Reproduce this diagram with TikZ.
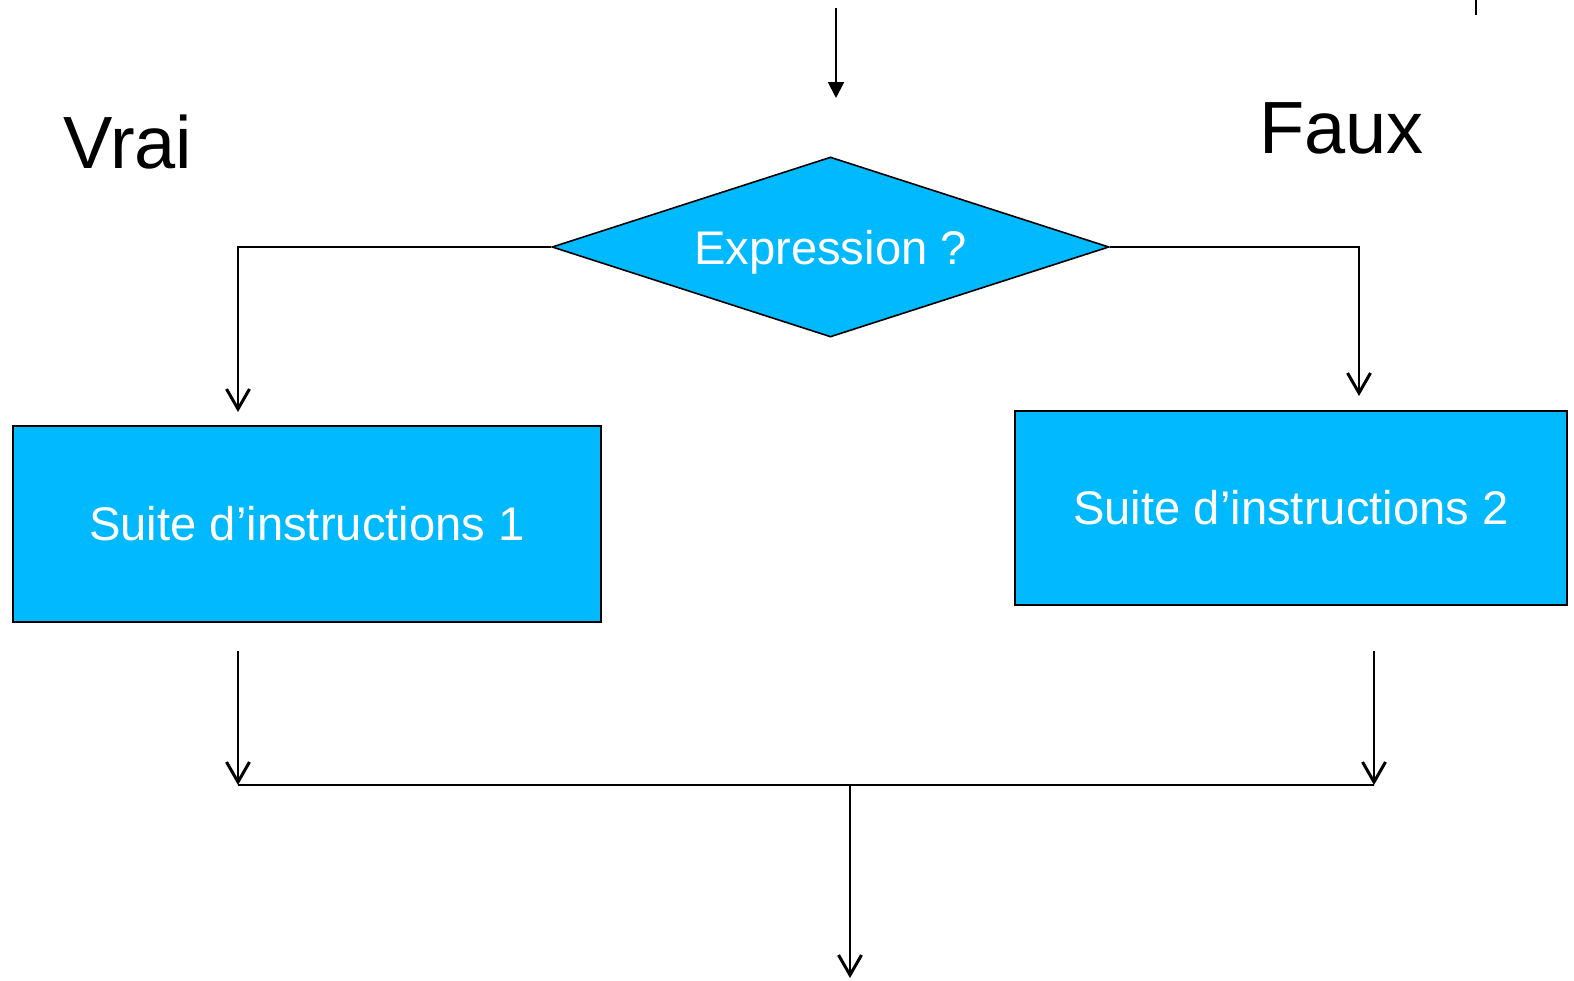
\documentclass[tikz,border=0pt]{standalone}
\usepackage{fontspec}
\setmainfont{Liberation Sans}
\usetikzlibrary{arrows.meta,shapes.geometric}
\definecolor{boxblue}{RGB}{0,185,255}
\begin{document}
\begin{tikzpicture}[x=0.5pt,y=-0.5pt,
  box/.style={draw=black,line width=1pt,fill=boxblue,text=white,font=\fontsize{23.6pt}{28pt}\selectfont,inner sep=0pt},
  dec/.style={diamond,draw=black,line width=0.8pt,fill=boxblue,text=white,font=\fontsize{23.6pt}{28pt}\selectfont,inner sep=0pt,text depth=0pt,minimum width=278.5pt,minimum height=90pt,aspect=3.1},
  conn/.style={line width=0.75pt,-{Straight Barb[length=10pt,width=11.5pt,line width=1.5pt]}},
  lbl/.style={font=\fontsize{37pt}{44pt}\selectfont,inner sep=0pt,anchor=base west}
]
\useasboundingbox (0,0) rectangle (1574,980);
% nodes
\node[dec] (d) at (830.5,247) {Expression ?};
\node[box,minimum width=294pt,minimum height=98pt] (b1) at (307,524) {Suite d’instructions 1};
\node[box,minimum width=276pt,minimum height=97pt] (b2) at (1291,508) {Suite d’instructions 2};
\node[lbl] (vrai) at (63,168) {Vrai};
\node[lbl] (faux) at (1259,153) {Faux};
% coordinates
\coordinate (a0) at (836,8);
\coordinate (a1) at (836,98);
\coordinate (t0) at (1476,0);
\coordinate (t1e) at (1476,15);
\coordinate (l1) at (238,412);
\coordinate (r1) at (1359,396);
\coordinate (s1) at (238,651);
\coordinate (j1) at (238,785);
\coordinate (s2) at (1374,651);
\coordinate (j2) at (1374,785);
\coordinate (jm) at (850,785);
\coordinate (e) at (850,978);
% connectors
\draw[line width=1pt,-{Triangle[length=8pt,width=8pt]}] (a0) -- (a1);
\draw[line width=1pt] (t0) -- (t1e);
\draw[conn] (d.west) -| (l1);
\draw[conn] (d.east) -| (r1);
\draw[conn] (s1) -- (j1);
\draw[conn] (s2) -- (j2);
\draw[line width=0.75pt] (j1) -- (j2);
\draw[conn] (jm) -- (e);
\end{tikzpicture}
\end{document}
